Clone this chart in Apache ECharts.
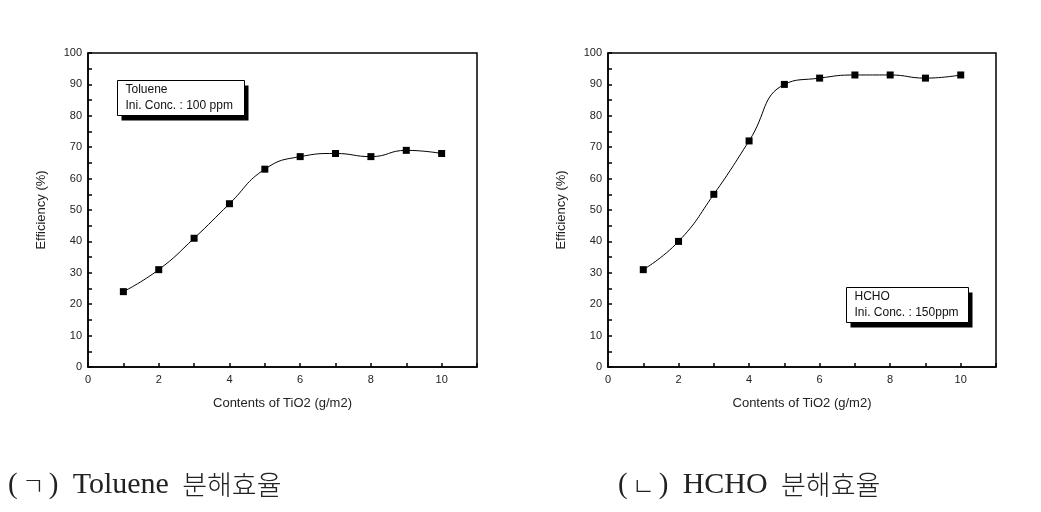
<!DOCTYPE html>
<html>
<head>
<meta charset="utf-8">
<script src="https://cdn.jsdelivr.net/npm/echarts@6/dist/echarts.min.js"></script>
<style>
html,body{margin:0;padding:0;background:#fff;}
#c{width:1041px;height:512px;}
</style>
</head>
<body>
<div id="c"></div>
<script>
var contents = [1, 2, 3, 4, 5, 6, 7, 8, 9, 10];
var toluene = [24, 31, 41, 52, 63, 67, 68, 67, 69, 68];
var hcho = [31, 40, 55, 72, 90, 92, 93, 93, 92, 93];
var xName = 'Contents of TiO2 (g/m2)';
var yName = 'Efficiency (%)';
var tolueneNote = ['Toluene', 'Ini. Conc. : 100 ppm'];
var hchoNote = ['HCHO', 'Ini. Conc. : 150ppm'];
var captionMarks = ['ㄱ', 'ㄴ'];
var captionNames = ['Toluene', 'HCHO'];
var captionTail = '분해효율';

function pairs(xs, ys) { return xs.map(function (x, i) { return [x, ys[i]]; }); }

var lbl = { color: '#222', fontSize: 11, fontFamily: 'Liberation Sans, Arial, sans-serif' };

function xAxis(gi) {
  return {
    gridIndex: gi, type: 'value', min: 0, max: 11, interval: 1,
    name: xName, nameLocation: 'middle', nameGap: 30,
    nameTextStyle: { color: '#222', fontSize: 13, fontFamily: 'Liberation Sans, Arial, sans-serif' },
    axisLine: { show: true, onZero: false, lineStyle: { color: '#000', width: 1.5 } },
    axisTick: { show: true, inside: true, length: 4, lineStyle: { color: '#000', width: 1.5 } },
    axisLabel: Object.assign({ margin: 7, showMaxLabel: true, formatter: function (v) { return (v % 2 === 0 && v <= 10) ? String(v) : ''; } }, lbl),
    splitLine: { show: false }
  };
}
function yAxis(gi) {
  return {
    gridIndex: gi, type: 'value', min: 0, max: 100, interval: 5,
    name: yName, nameLocation: 'middle', nameGap: 40, nameRotate: 90,
    nameTextStyle: { color: '#222', fontSize: 13, fontFamily: 'Liberation Sans, Arial, sans-serif' },
    axisLine: { show: true, lineStyle: { color: '#000', width: 1.5 } },
    axisTick: { show: true, inside: true, length: 4, lineStyle: { color: '#000', width: 1.5 } },
    axisLabel: Object.assign({ margin: 6, formatter: function (v) { return v % 10 === 0 ? String(v) : ''; } }, lbl),
    splitLine: { show: false }
  };
}
function series(gi, ys) {
  return {
    type: 'line', xAxisIndex: gi, yAxisIndex: gi, data: pairs(contents, ys),
    smooth: 0.5, symbol: 'rect', symbolSize: 7,
    itemStyle: { color: '#000' }, lineStyle: { color: '#000', width: 1 }
  };
}
function noteBox(x, y, w, h, lines) {
  return {
    type: 'group', left: x, top: y,
    children: [
      { type: 'rect', shape: { x: 4, y: 5, width: w, height: h }, style: { fill: '#000' } },
      { type: 'rect', shape: { x: 0, y: 0, width: w, height: h }, style: { fill: '#fff', stroke: '#000', lineWidth: 1 } },
      { type: 'text', x: 8, y: 3, style: { text: lines[0], fill: '#111', font: '12px "Liberation Sans", Arial, sans-serif' } },
      { type: 'text', x: 8, y: 19, style: { text: lines[1], fill: '#111', font: '12px "Liberation Sans", Arial, sans-serif' } }
    ]
  };
}
var serif = '"Liberation Serif", "DejaVu Serif", serif';
var kr = '"Noto Sans CJK KR", sans-serif';
function caption(x, i) {
  return {
    type: 'text', left: x, top: 470,
    style: {
      text: '{p|(}{k|' + captionMarks[i] + '}{p|)} {n|' + captionNames[i] + '} {t|' + captionTail + '}',
      fill: '#111',
      rich: {
        p: { fontFamily: serif, fontSize: 29, fill: '#222', padding: [0, 3, 0, 3] },
        n: { fontFamily: serif, fontSize: 30, fill: '#222', padding: [0, 6, 0, 8] },
        k: { fontFamily: kr, fontSize: 25, fontWeight: 300, fill: '#222', padding: [0, 1, 0, 1] },
        t: { fontFamily: kr, fontSize: 27, fontWeight: 300, fill: '#222', padding: [0, 0, 0, 4] }
      }
    }
  };
}

var chart = echarts.init(document.getElementById('c'));
chart.setOption({
  backgroundColor: '#fff',
  animation: false,
  grid: [
    { left: 88, top: 53, width: 389, height: 314, show: true, borderColor: '#000', borderWidth: 1.5, backgroundColor: 'transparent' },
    { left: 608, top: 53, width: 388, height: 314, show: true, borderColor: '#000', borderWidth: 1.5, backgroundColor: 'transparent' }
  ],
  xAxis: [xAxis(0), xAxis(1)],
  yAxis: [yAxis(0), yAxis(1)],
  series: [series(0, toluene), series(1, hcho)],
  graphic: [
    noteBox(117, 80, 127, 35, tolueneNote),
    noteBox(846, 287, 122, 35, hchoNote),
    caption(8, 0),
    caption(618, 1)
  ]
});
</script>
</body>
</html>
